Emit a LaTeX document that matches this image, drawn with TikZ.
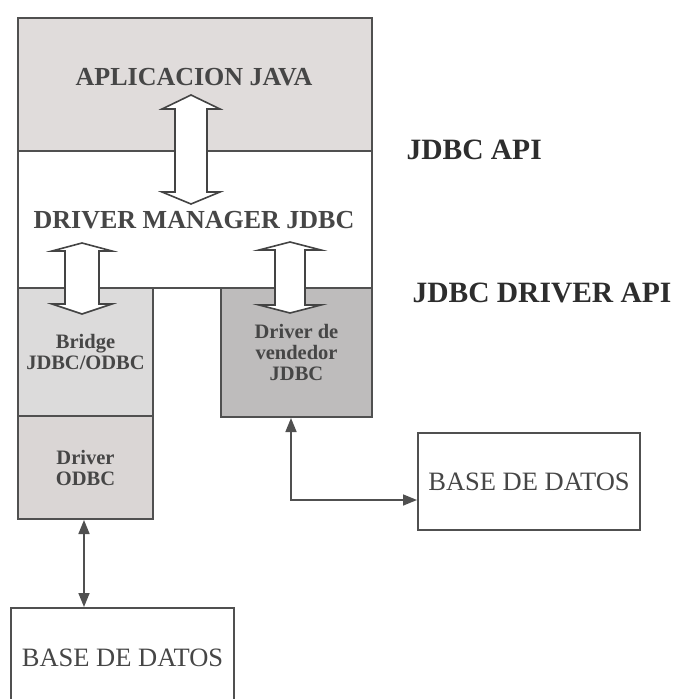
\documentclass[tikz,border=0pt]{standalone}
\usepackage{fontspec}
\setmainfont{Liberation Serif}
\usetikzlibrary{arrows.meta}
\definecolor{appfill}{RGB}{224,220,219}
\definecolor{brfill}{RGB}{220,219,219}
\definecolor{odfill}{RGB}{218,214,213}
\definecolor{vdfill}{RGB}{190,188,188}
\definecolor{edgec}{RGB}{80,80,80}
\definecolor{txt}{RGB}{70,70,70}
\definecolor{lbl}{RGB}{45,45,45}
\tikzset{
 layer/.style={draw=edgec, line width=2pt, rectangle, inner sep=0pt, anchor=north west},
 smalltxt/.style={font=\bfseries\fontsize{20.5}{21}\selectfont, text=txt, align=center},
 bigtxt/.style={font=\bfseries\fontsize{26}{28}\selectfont, text=txt},
 apilbl/.style={font=\bfseries\fontsize{29.5}{32}\selectfont, text=lbl, anchor=west},
 dbtxt/.style={font=\fontsize{26.5}{28}\selectfont, text=txt},
 blockarrow/.style={draw=edgec!85!black, fill=white, line width=1.6pt, line join=miter},
 link/.style={draw=edgec, line width=1.6pt, {Triangle[length=14pt,width=11pt]}-{Triangle[length=14pt,width=11pt]}},
}
\newcommand\blockarrow[7]{%
 \draw[blockarrow] (#1,#2) -- ({#1+#7},#3) -- ({#1+#6},#3) -- ({#1+#6},#4) -- ({#1+#7},#4) -- (#1,#5) -- ({#1-#7},#4) -- ({#1-#6},#4) -- ({#1-#6},#3) -- ({#1-#7},#3) -- cycle;}
\begin{document}
\begin{tikzpicture}[x=1pt,y=-1pt]
\useasboundingbox (0,0) rectangle (675,699);
\clip (0,0) rectangle (675,699);
\fill[white] (0,0) rectangle (675,699);
\node[layer, fill=appfill, minimum width=354pt, minimum height=133pt] (app) at (17,17) {};
\node[layer, fill=white, minimum width=354pt, minimum height=137pt] (mgr) at (17,150) {};
\node[layer, fill=brfill, minimum width=135pt, minimum height=128pt, smalltxt] (bridge) at (17,287) {Bridge\\JDBC/ODBC};
\node[layer, fill=odfill, minimum width=135pt, minimum height=103pt, smalltxt] (odbc) at (17,415) {Driver\\ODBC};
\node[layer, fill=vdfill, minimum width=151pt, minimum height=129pt, smalltxt] (vend) at (220,287) {Driver de\\vendedor\\JDBC};
\node[layer, fill=white, minimum width=222pt, minimum height=97pt, dbtxt] (db1) at (417,432) {BASE DE DATOS};
\node[layer, fill=white, minimum width=223pt, minimum height=100pt, dbtxt] (db2) at (10,607) {BASE DE DATOS};
\node[bigtxt] (apptitle) at (194,77) {APLICACION JAVA};
\node[bigtxt] (mgrtitle) at (194,220) {DRIVER MANAGER JDBC};
\node[apilbl] (jdbcapi) at (403,150) {JDBC API};
\node[apilbl] (drvapi) at (409,293) {JDBC DRIVER API};
\blockarrow{191}{95}{109}{192}{204}{16}{29}
\blockarrow{82}{243}{251}{304}{314}{17}{30}
\blockarrow{290}{242}{250}{305}{313}{15}{31}
\draw[link] ([xshift=-5.5pt]vend.south) |- ([yshift=-18.5pt]db1.west);
\draw[link] ([xshift=-1.5pt]odbc.south) -- ([xshift=-1.5pt]odbc.south |- db2.north);
\end{tikzpicture}
\end{document}
